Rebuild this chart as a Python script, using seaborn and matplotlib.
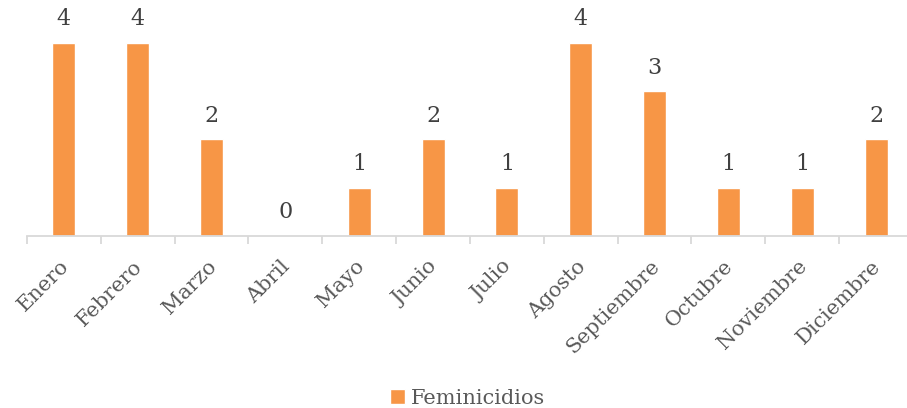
import pandas as pd
import matplotlib
matplotlib.use("Agg")
import matplotlib.pyplot as plt
import matplotlib.transforms as mtransforms
import seaborn as sns
from matplotlib.ticker import FixedLocator

# Data
meses = ["Enero", "Febrero", "Marzo", "Abril", "Mayo", "Junio", "Julio",
         "Agosto", "Septiembre", "Octubre", "Noviembre", "Diciembre"]
feminicidios = [4, 4, 2, 0, 1, 2, 1, 4, 3, 1, 1, 2]
serie = "Feminicidios"

df = pd.DataFrame({"Mes": meses, serie: feminicidios})

sns.set_style("white")
plt.rcParams["font.family"] = ["DejaVu Serif"]
texto = "#595959"
naranja = "#F79646"

fig = plt.figure(figsize=(9.07, 4.08), dpi=100)
ax = fig.add_axes([27 / 907, (408 - 236) / 408, 886 / 907, 236 / 408])

sns.barplot(data=df, x="Mes", y=serie, color=naranja, width=0.31,
            saturation=1, label=serie, ax=ax)
if ax.legend_ is not None:
    ax.legend_.remove()

ax.bar_label(ax.containers[0], padding=9, fontsize=16, color="#404040")

ax.set_xlim(-0.5, len(meses) - 0.5)
ax.set_ylim(0, 4.89)
ax.set_xlabel("")
ax.set_ylabel("")
ax.set_yticks([])

for side in ["top", "right", "left"]:
    ax.spines[side].set_visible(False)
ax.spines["bottom"].set_color("#d9d9d9")
ax.spines["bottom"].set_linewidth(1.3)

ax.tick_params(axis="x", which="major", bottom=False, length=0, pad=15)
ax.xaxis.set_minor_locator(FixedLocator([i - 0.5 for i in range(len(meses) + 1)]))
ax.tick_params(axis="x", which="minor", bottom=True, length=6, width=1.3,
               color="#d9d9d9", direction="out")
shift = mtransforms.ScaledTranslation(-5 / 100, 0, fig.dpi_scale_trans)
for lbl in ax.get_xticklabels():
    lbl.set_rotation(45)
    lbl.set_ha("right")
    lbl.set_rotation_mode("anchor")
    lbl.set_fontsize(15)
    lbl.set_color(texto)
    lbl.set_transform(lbl.get_transform() + shift)

handles, labels = ax.get_legend_handles_labels()
fig.legend(handles, labels, loc="lower center", bbox_to_anchor=(0.516, -0.02),
           borderaxespad=0.0, frameon=False, fontsize=15, labelcolor=texto,
           handlelength=0.7, handleheight=0.7, handletextpad=0.3)

fig.savefig("out.png", dpi=100)
